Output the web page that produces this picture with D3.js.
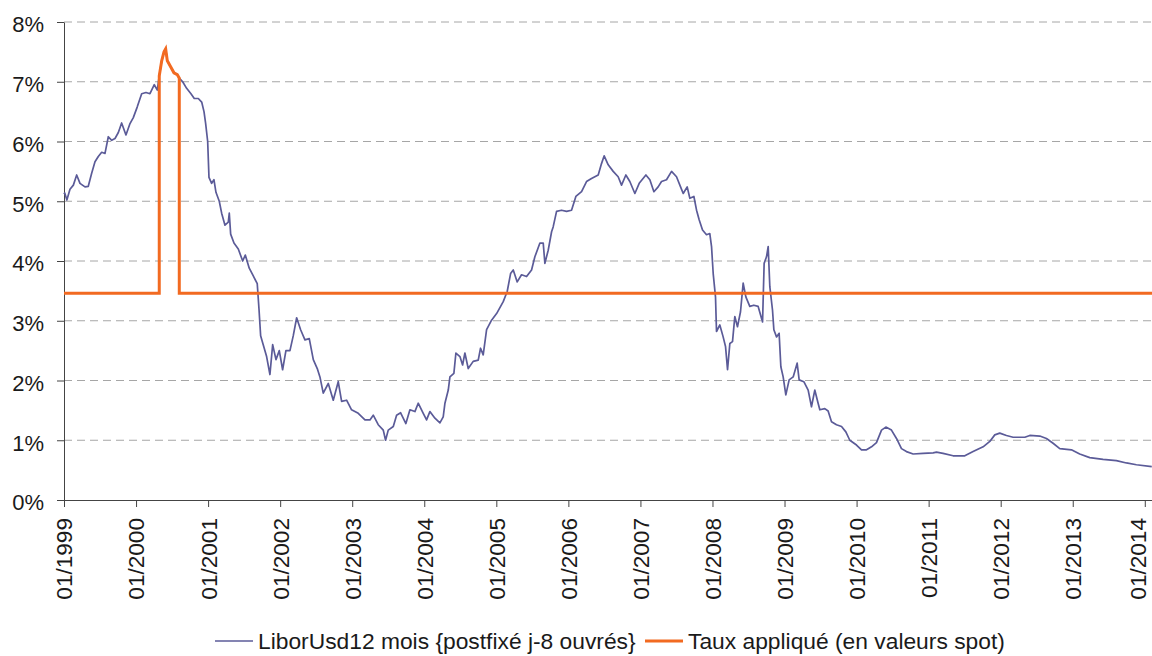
<!DOCTYPE html>
<html>
<head>
<meta charset="utf-8">
<script src="https://cdn.jsdelivr.net/npm/d3@7"></script>
<style>
  body { margin: 0; background: #fff; }
  svg { display: block; font-family: "Liberation Sans", Arial, sans-serif; }
</style>
</head>
<body>
<svg id="chart"></svg>
<script>
// Libor USD 12 mois (decimal years, %)
const liborYears = [
  1999.00, 1999.01, 1999.04, 1999.083, 1999.13, 1999.176, 1999.222, 1999.291, 1999.337, 1999.384,
  1999.43, 1999.476, 1999.523, 1999.569, 1999.615, 1999.662, 1999.708, 1999.754, 1999.80, 1999.86,
  1999.916, 1999.962, 2000.017, 2000.078, 2000.138, 2000.193, 2000.253, 2000.295, 2000.322, 2000.356,
  2000.388, 2000.411, 2000.434, 2000.48, 2000.526, 2000.572, 2000.60, 2000.647, 2000.702, 2000.762,
  2000.808, 2000.864, 2000.911, 2000.943, 2000.966, 2000.994, 2001.012, 2001.049, 2001.081, 2001.109,
  2001.155, 2001.188, 2001.234, 2001.28, 2001.294, 2001.313, 2001.359, 2001.419, 2001.48, 2001.516,
  2001.571, 2001.627, 2001.682, 2001.706, 2001.729, 2001.765, 2001.812, 2001.858, 2001.896, 2001.942,
  2001.988, 2002.034, 2002.08, 2002.136, 2002.182, 2002.229, 2002.284, 2002.344, 2002.404, 2002.46,
  2002.515, 2002.552, 2002.598, 2002.668, 2002.737, 2002.806, 2002.853, 2002.922, 2002.991, 2003.084,
  2003.177, 2003.246, 2003.292, 2003.361, 2003.431, 2003.463, 2003.50, 2003.57, 2003.616, 2003.672,
  2003.745, 2003.801, 2003.87, 2003.916, 2003.986, 2004.032, 2004.078, 2004.148, 2004.217, 2004.263,
  2004.287, 2004.333, 2004.356, 2004.411, 2004.439, 2004.495, 2004.532, 2004.564, 2004.61, 2004.679,
  2004.749, 2004.781, 2004.818, 2004.865, 2004.934, 2005.004, 2005.096, 2005.151, 2005.198, 2005.235,
  2005.29, 2005.35, 2005.42, 2005.489, 2005.535, 2005.605, 2005.651, 2005.674, 2005.72, 2005.767,
  2005.789, 2005.836, 2005.905, 2005.975, 2006.044, 2006.104, 2006.183, 2006.252, 2006.321, 2006.414,
  2006.46, 2006.497, 2006.553, 2006.622, 2006.691, 2006.738, 2006.798, 2006.853, 2006.923, 2006.983,
  2007.076, 2007.131, 2007.187, 2007.246, 2007.293, 2007.362, 2007.432, 2007.501, 2007.557, 2007.594,
  2007.649, 2007.686, 2007.742, 2007.779, 2007.815, 2007.862, 2007.917, 2007.963, 2007.987, 2008.01,
  2008.042, 2008.056, 2008.102, 2008.148, 2008.181, 2008.209, 2008.241, 2008.278, 2008.31, 2008.347,
  2008.389, 2008.426, 2008.463, 2008.518, 2008.574, 2008.634, 2008.695, 2008.717, 2008.75, 2008.773,
  2008.796, 2008.833, 2008.852, 2008.889, 2008.925, 2008.949, 2008.981, 2009.018, 2009.064, 2009.12,
  2009.175, 2009.203, 2009.268, 2009.328, 2009.374, 2009.42, 2009.466, 2009.49, 2009.559, 2009.605,
  2009.652, 2009.721, 2009.791, 2009.851, 2009.906, 2009.999, 2010.068, 2010.138, 2010.207, 2010.276,
  2010.346, 2010.406, 2010.484, 2010.554, 2010.623, 2010.692, 2010.785, 2010.923, 2011.062, 2011.109,
  2011.20, 2011.339, 2011.502, 2011.617, 2011.756, 2011.849, 2011.918, 2011.987, 2012.08, 2012.172,
  2012.335, 2012.404, 2012.543, 2012.635, 2012.727, 2012.82, 2012.982, 2013.097, 2013.236, 2013.421,
  2013.606, 2013.745, 2013.884, 2014.097
];
const liborValues = [
  5.12, 5.14, 5.02, 5.20, 5.27, 5.44, 5.30, 5.24, 5.25, 5.47,
  5.66, 5.75, 5.82, 5.80, 6.08, 6.02, 6.05, 6.15, 6.31, 6.11,
  6.30, 6.40, 6.58, 6.80, 6.82, 6.80, 6.95, 6.86, 7.10, 7.35,
  7.50, 7.55, 7.35, 7.25, 7.15, 7.12, 7.06, 7.00, 6.89, 6.80,
  6.72, 6.72, 6.66, 6.50, 6.30, 6.00, 5.40, 5.30, 5.36, 5.15,
  5.00, 4.80, 4.60, 4.65, 4.80, 4.45, 4.30, 4.20, 4.00, 4.10,
  3.88, 3.75, 3.62, 3.20, 2.75, 2.60, 2.40, 2.10, 2.60, 2.35,
  2.50, 2.18, 2.50, 2.50, 2.75, 3.05, 2.85, 2.68, 2.70, 2.35,
  2.20, 2.06, 1.79, 1.95, 1.67, 1.98, 1.65, 1.67, 1.51, 1.45,
  1.34, 1.34, 1.42, 1.26, 1.17, 1.00, 1.17, 1.23, 1.42, 1.46,
  1.28, 1.51, 1.48, 1.62, 1.45, 1.34, 1.48, 1.37, 1.29, 1.39,
  1.62, 1.84, 2.06, 2.12, 2.46, 2.40, 2.26, 2.46, 2.20, 2.32,
  2.34, 2.54, 2.43, 2.85, 3.01, 3.12, 3.32, 3.49, 3.79, 3.85,
  3.65, 3.77, 3.74, 3.85, 4.07, 4.30, 4.30, 3.96, 4.18, 4.49,
  4.57, 4.83, 4.85, 4.83, 4.85, 5.08, 5.16, 5.33, 5.38, 5.44,
  5.63, 5.76, 5.61, 5.50, 5.41, 5.27, 5.44, 5.33, 5.13, 5.30,
  5.44, 5.36, 5.16, 5.24, 5.33, 5.36, 5.50, 5.41, 5.24, 5.13,
  5.24, 5.05, 5.08, 4.85, 4.69, 4.52, 4.44, 4.46, 4.24, 3.79,
  3.40, 2.82, 2.93, 2.73, 2.57, 2.18, 2.62, 2.65, 3.07, 2.90,
  3.15, 3.63, 3.40, 3.24, 3.26, 3.24, 2.98, 3.96, 4.07, 4.24,
  3.57, 3.18, 2.85, 2.73, 2.79, 2.23, 2.06, 1.76, 2.01, 2.06,
  2.29, 2.01, 1.98, 1.84, 1.56, 1.84, 1.62, 1.51, 1.53, 1.49,
  1.31, 1.26, 1.23, 1.14, 1.00, 0.92, 0.84, 0.84, 0.89, 0.96,
  1.17, 1.22, 1.17, 1.03, 0.86, 0.81, 0.77, 0.78, 0.79, 0.80,
  0.78, 0.74, 0.74, 0.81, 0.89, 0.98, 1.09, 1.12, 1.08, 1.05,
  1.05, 1.08, 1.07, 1.03, 0.95, 0.86, 0.84, 0.77, 0.71, 0.68,
  0.66, 0.62, 0.59, 0.56
];

// Taux appliqué (en valeurs spot)
const appliedYears = [
  1999.00, 2000.322, 2000.322, 2000.356, 2000.388, 2000.411, 2000.434, 2000.48, 2000.526, 2000.572,
  2000.60, 2000.60, 2014.10
];
const appliedValues = [
  3.46, 3.46, 7.10, 7.35, 7.50, 7.55, 7.35, 7.25, 7.15, 7.12,
  7.06, 3.46, 3.46
];

const yTicks = [0, 1, 2, 3, 4, 5, 6, 7, 8];
const xTickYears = [1999, 2000, 2001, 2002, 2003, 2004, 2005, 2006, 2007, 2008, 2009, 2010, 2011, 2012, 2013, 2014];
const legendLabels = ["LiborUsd12 mois {postfixé j-8 ouvrés}", "Taux appliqué (en valeurs spot)"];

const width = 1152, height = 656;
const margin = { top: 22, right: 0, bottom: 156, left: 64 };

const svg = d3.select("#chart")
  .attr("width", width)
  .attr("height", height);

svg.append("rect").attr("width", width).attr("height", height).attr("fill", "#fff");

const x = d3.scaleLinear()
  .domain([1999, 2014.1])
  .range([margin.left, width - margin.right]);

const y = d3.scaleLinear()
  .domain([0, 8])
  .range([height - margin.bottom, margin.top]);

// dashed gridlines
svg.append("g")
  .selectAll("line")
  .data(yTicks.filter(d => d > 0))
  .join("line")
  .attr("x1", margin.left)
  .attr("x2", width - margin.right)
  .attr("y1", d => y(d))
  .attr("y2", d => y(d))
  .attr("stroke", "#a6a6a6")
  .attr("stroke-width", 1)
  .attr("stroke-dasharray", "8,5");

// y axis
const yAxis = svg.append("g")
  .attr("transform", `translate(${margin.left},0)`)
  .call(d3.axisLeft(y).tickValues(yTicks).tickFormat(d => d + "%").tickSize(7).tickSizeOuter(0).tickPadding(13));
yAxis.select(".domain").attr("stroke", "#444");
yAxis.selectAll(".tick line").attr("stroke", "#444");
yAxis.selectAll("text")
  .attr("font-size", 22)
  .attr("font-family", "'Liberation Sans', Arial, sans-serif")
  .attr("fill", "#1a1a1a")
  .attr("dy", "0.45em");

// x axis (last label nudged so it stays inside the picture)
const xAxis = svg.append("g")
  .attr("transform", `translate(0,${y(0)})`)
  .call(d3.axisBottom(x).tickValues(xTickYears).tickFormat(d => "01/" + d).tickSize(7).tickSizeOuter(0));
xAxis.select(".domain").attr("stroke", "#444");
xAxis.selectAll(".tick line").attr("stroke", "#444");
xAxis.selectAll("text")
  .attr("font-size", 22.6)
  .attr("font-family", "'Liberation Sans', Arial, sans-serif")
  .attr("fill", "#1a1a1a")
  .attr("transform", "rotate(-90)")
  .attr("x", -18)
  .attr("y", 0)
  .attr("dy", d => d === 2014 ? "0.02em" : "0.35em")
  .attr("text-anchor", "end");

// lines
const libor = liborYears.map((d, i) => [d, liborValues[i]]);
const applied = appliedYears.map((d, i) => [d, appliedValues[i]]);

const line = d3.line()
  .x(d => x(d[0]))
  .y(d => y(d[1]));

svg.append("path")
  .datum(libor)
  .attr("fill", "none")
  .attr("stroke", "#5b5b98")
  .attr("stroke-width", 1.7)
  .attr("stroke-linejoin", "round")
  .attr("d", line);

svg.append("path")
  .datum(applied)
  .attr("fill", "none")
  .attr("stroke", "#f26a21")
  .attr("stroke-width", 3)
  .attr("d", line);

// legend
const legend = svg.append("g").attr("font-size", 22.8).attr("fill", "#1a1a1a");
const legendItems = [
  { label: legendLabels[0], color: "#5b5b98", w: 1.6, x: 215 },
  { label: legendLabels[1], color: "#f26a21", w: 3, x: 645 }
];
legendItems.forEach(item => {
  legend.append("line")
    .attr("x1", item.x).attr("x2", item.x + 38)
    .attr("y1", 641).attr("y2", 641)
    .attr("stroke", item.color)
    .attr("stroke-width", item.w);
  legend.append("text")
    .attr("x", item.x + 43)
    .attr("y", 649)
    .text(item.label);
});
</script>
</body>
</html>
